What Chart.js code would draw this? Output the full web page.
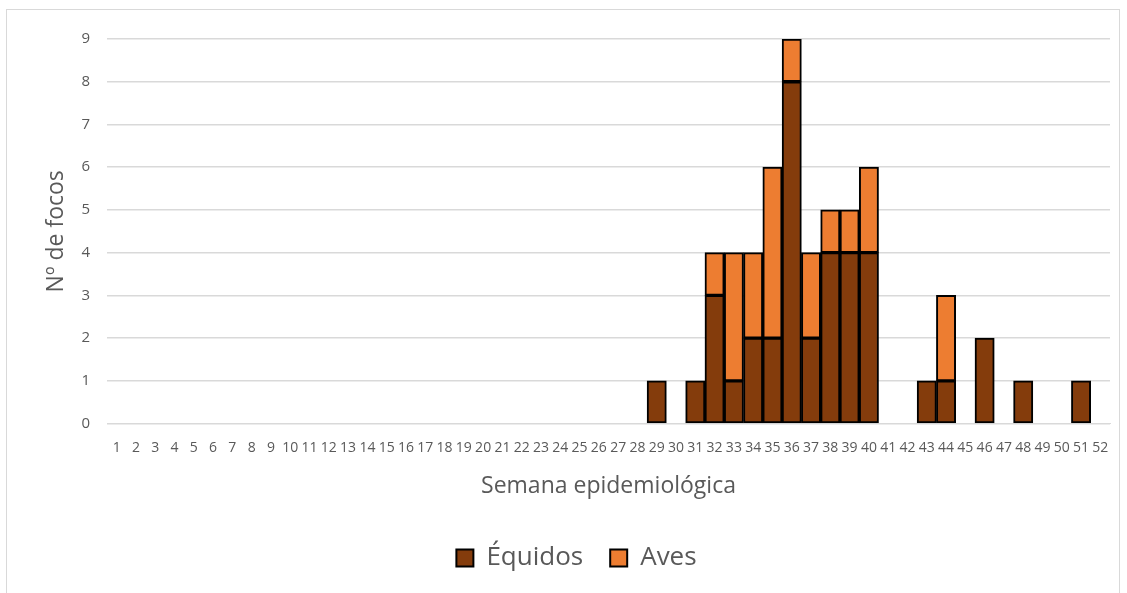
<!DOCTYPE html>
<html>
<head>
<meta charset="utf-8">
<script src="https://cdn.jsdelivr.net/npm/chart.js@4/dist/chart.umd.min.js"></script>
<style>
  body { margin: 0; background: #fff; }
  #frame { position: absolute; left: 6px; top: 9px; width: 1114px; height: 620px; border: 1px solid #d9d9d9; box-sizing: border-box; }
  #wrap { position: absolute; left: 0; top: 0; width: 1127px; height: 593px; }
</style>
</head>
<body>
<div id="frame"></div>
<div id="wrap"><canvas id="focosChart"></canvas></div>
<script>
// weeks 1..52
const weeks = Array.from({ length: 52 }, (_, i) => String(i + 1));

// sparse values, keyed by week
const equidosByWeek = { 29: 1, 31: 1, 32: 3, 33: 1, 34: 2, 35: 2, 36: 8, 37: 2, 38: 4, 39: 4, 40: 4, 43: 1, 44: 1, 46: 2, 48: 1, 51: 1 };
const avesByWeek = { 32: 1, 33: 3, 34: 2, 35: 4, 36: 1, 37: 2, 38: 1, 39: 1, 40: 2, 44: 2 };

const equidos = weeks.map(w => equidosByWeek[w] ?? null);
const aves = weeks.map(w => avesByWeek[w] ?? null);

const FONT = "'Open Sans', sans-serif";
const GREY = "#595959";

const ctx = document.getElementById("focosChart").getContext("2d");
new Chart(ctx, {
  type: "bar",
  data: {
    labels: weeks,
    datasets: [
      { label: "Équidos", data: equidos, backgroundColor: "#843C0C", borderColor: "#000", borderWidth: 2, borderSkipped: false },
      { label: "Aves", data: aves, backgroundColor: "#ED7D31", borderColor: "#000", borderWidth: 2, borderSkipped: false }
    ]
  },
  options: {
    responsive: true,
    maintainAspectRatio: false,
    animation: false,
    layout: { padding: { left: 43, right: 17, top: 39, bottom: 12 } },
    datasets: { bar: { barPercentage: 1, categoryPercentage: 1 } },
    plugins: {
      tooltip: { enabled: false },
      legend: {
        position: "bottom",
        labels: {
          font: { family: FONT, size: 26 },
          color: GREY,
          boxWidth: 17,
          boxHeight: 17,
          padding: 27
        }
      }
    },
    scales: {
      x: {
        stacked: true,
        grid: { display: false, drawTicks: false },
        border: { display: true, color: "#d9d9d9" },
        ticks: { font: { family: FONT, size: 14 }, color: GREY, autoSkip: false, maxRotation: 0, minRotation: 0, padding: 16 },
        title: { display: true, text: "Semana epidemiológica", font: { family: FONT, size: 23 }, color: GREY, padding: { top: 0, bottom: 18 } }
      },
      y: {
        stacked: true,
        min: 0,
        max: 9,
        afterFit: (scale) => { scale.width = 64; },
        grid: { color: "#d9d9d9", lineWidth: 1.5, drawTicks: false },
        border: { display: false },
        ticks: { stepSize: 1, font: { family: FONT, size: 15 }, color: GREY, padding: 17 },
        title: { display: true, text: "Nº de focos", font: { family: FONT, size: 23 }, color: GREY, padding: 0 }
      }
    }
  }
});
</script>
</body>
</html>
